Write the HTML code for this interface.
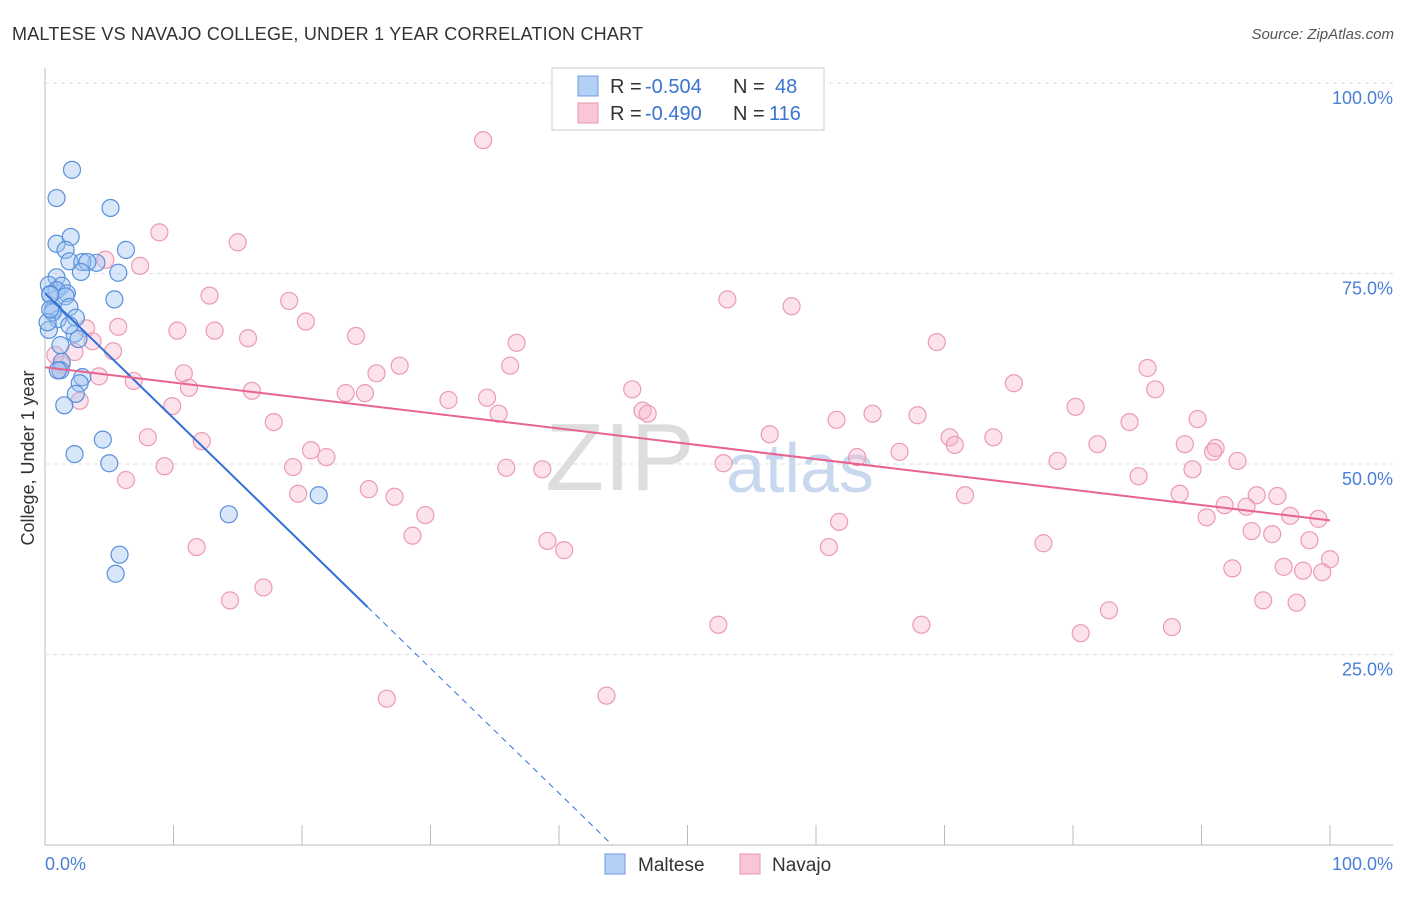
<!DOCTYPE html>
<html><head><meta charset="utf-8"><style>
body{margin:0;background:#fff;font-family:"Liberation Sans",sans-serif;}
svg text{font-family:"Liberation Sans",sans-serif;}
</style></head><body>
<svg id="chart" width="1406" height="892">
<text x="12" y="40" font-size="18" fill="#333" textLength="631">MALTESE VS NAVAJO COLLEGE, UNDER 1 YEAR CORRELATION CHART</text>
<text x="1394" y="39" font-size="15" fill="#555" font-style="italic" text-anchor="end">Source: ZipAtlas.com</text>
<text x="620" y="490" font-size="96" fill="#ddd" font-family="Liberation Serif" text-anchor="middle">ZIP</text>
<text x="800" y="492" font-size="70" fill="#c8d8ee" text-anchor="middle">atlas</text>
<g id="grid"></g><g id="pts"></g><g id="lines"></g>
<text transform="translate(34,458) rotate(-90)" font-size="18" fill="#333" text-anchor="middle">College, Under 1 year</text>
<text x="45" y="870" font-size="18" fill="#4a7fd6">0.0%</text>
<text x="1393" y="870" font-size="18" fill="#4a7fd6" text-anchor="end">100.0%</text>
<g>
<rect x="552" y="68" width="272" height="62" fill="#fff" stroke="#ccc"/>
<rect x="578" y="76" width="20" height="20" fill="#b5d0f5" stroke="#6a9be0"/>
<rect x="578" y="103" width="20" height="20" fill="#f8c6d6" stroke="#e895b0"/>
<text x="610" y="93" font-size="20" fill="#333">R = </text><text x="645" y="93" font-size="20" fill="#3a74d0">-0.504</text>
<text x="733" y="93" font-size="20" fill="#333">N = </text><text x="775" y="93" font-size="20" fill="#3a74d0">48</text>
<text x="610" y="120" font-size="20" fill="#333">R = </text><text x="645" y="120" font-size="20" fill="#3a74d0">-0.490</text>
<text x="733" y="120" font-size="20" fill="#333">N = </text><text x="769" y="120" font-size="20" fill="#3a74d0">116</text>
</g>
<g>
<rect x="605" y="854" width="20" height="20" fill="#b5d0f5" stroke="#6a9be0"/>
<text x="638" y="871" font-size="19" fill="#333">Maltese</text>
<rect x="740" y="854" width="20" height="20" fill="#f8c6d6" stroke="#e895b0"/>
<text x="772" y="871" font-size="19" fill="#333">Navajo</text>
</g>
</svg>
<script>
const yTicks=[25,50,75,100];
const yTickLabels=["25.0%","50.0%","75.0%","100.0%"];
const xTicks=[0,10,20,30,40,50,60,70,80,90,100];
const blueX=[2.1,0.9,5.1,0.9,2.0,1.6,6.3,4.0,1.9,2.9,3.3,5.7,2.8,0.9,0.3,1.3,0.9,1.7,5.4,1.6,0.4,0.6,1.9,1.0,2.4,0.3,2.3,2.6,1.3,1.2,2.9,2.7,1.5,2.4,4.5,2.3,5.0,14.3,21.3,5.8,5.5,0.6,0.2,0.4,1.2,1.9,0.4,1.0];
const blueY=[88.6,84.9,83.6,78.9,79.8,78.1,78.1,76.4,76.6,76.5,76.5,75.1,75.2,74.5,73.5,73.4,72.8,72.4,71.6,72.0,72.3,70.2,70.6,69.0,69.2,67.6,67.1,66.4,63.4,62.3,61.4,60.6,57.7,59.2,53.2,51.3,50.1,43.4,45.9,38.1,35.6,69.9,68.6,72.2,65.6,68.2,70.3,62.3];
const pinkX=[34.1,8.9,15.0,7.4,4.7,12.8,19.0,53.1,58.1,5.7,20.3,10.3,13.2,15.8,24.2,69.4,3.2,3.7,36.7,5.3,2.3,10.8,25.8,27.6,36.2,85.8,4.2,6.9,11.2,16.1,23.4,24.9,31.4,34.4,45.7,75.4,86.4,2.7,9.9,35.3,46.5,46.9,61.6,64.4,67.9,80.2,84.4,89.7,17.8,8.0,12.2,56.4,70.4,70.8,73.8,81.9,88.7,91.1,20.7,21.9,63.2,66.5,78.8,90.9,92.8,9.3,19.3,35.9,38.7,52.8,89.3,85.1,6.3,94.3,19.7,25.2,27.2,71.6,88.3,95.9,29.6,91.8,93.5,90.4,96.9,99.1,61.8,28.6,93.9,95.5,39.1,40.4,61.0,77.7,98.4,11.8,100,92.4,96.4,97.9,99.4,17.0,14.4,94.8,97.4,82.8,52.4,68.2,87.7,80.6,26.6,43.7,0.8,1.3,1.0];
const pinkY=[92.5,80.4,79.1,76.0,76.8,72.1,71.4,71.6,70.7,68.0,68.7,67.5,67.5,66.5,66.8,66.0,67.8,66.1,65.9,64.8,64.7,61.9,61.9,62.9,62.9,62.6,61.5,60.9,60.0,59.6,59.3,59.3,58.4,58.7,59.8,60.6,59.8,58.3,57.6,56.6,57.0,56.6,55.8,56.6,56.4,57.5,55.5,55.9,55.5,53.5,53.0,53.9,53.5,52.5,53.5,52.6,52.6,52.1,51.8,50.9,50.9,51.6,50.4,51.6,50.4,49.7,49.6,49.5,49.3,50.1,49.3,48.4,47.9,45.9,46.1,46.7,45.7,45.9,46.1,45.8,43.3,44.6,44.4,43.0,43.2,42.8,42.4,40.6,41.2,40.8,39.9,38.7,39.1,39.6,40.0,39.1,37.5,36.3,36.5,36.0,35.8,33.8,32.1,32.1,31.8,30.8,28.9,28.9,28.6,27.8,19.2,19.6,64.3,63.0,62.3];
const blueFit=[72.4,-1.64];
const pinkFit=[62.7,-0.201];
const X=v=>45+v*12.85, Y=v=>845-v*7.62;
const NS="http://www.w3.org/2000/svg";
function mk(t,a,p){const e=document.createElementNS(NS,t);for(const k in a)e.setAttribute(k,a[k]);p.appendChild(e);return e;}
const grid=document.getElementById('grid');
let ax=mk('line',{x1:45,y1:68,x2:45,y2:845,stroke:'#bbb'},grid);


let bx=mk('line',{x1:45,y1:845,x2:1393,y2:845,stroke:'#bbb'},grid);


yTicks.forEach((t,i)=>{
 const g=mk('line',{x1:45,y1:Y(t),x2:1393,y2:Y(t),stroke:'#ddd','stroke-dasharray':'4,4'},grid);
 
 
 const l=mk('text',{x:1393,y:Y(t)+21,'font-size':18,fill:'#4a7fd6','text-anchor':'end'},grid);l.textContent=yTickLabels[i];
 
 
});
xTicks.forEach(t=>{const m=mk('line',{x1:X(t),y1:825,x2:X(t),y2:845,stroke:'#bbb'},grid);
 
 });
const pts=document.getElementById('pts');
pinkX.forEach((x,i)=>{const c=mk('circle',{cx:X(x),cy:Y(pinkY[i]),r:8.5,fill:'rgba(246,180,202,0.38)',stroke:'#ec9ab6','stroke-width':1.2},pts);
 
 });
blueX.forEach((x,i)=>{const c=mk('circle',{cx:X(x),cy:Y(blueY[i]),r:8.5,fill:'rgba(160,195,240,0.42)',stroke:'#5a90dc','stroke-width':1.2},pts);
 
 });
const L=document.getElementById('lines');
let b1=mk('line',{x1:X(0),y1:Y(blueFit[0]),x2:X(25.1),y2:Y(blueFit[0]+blueFit[1]*25.1),stroke:'#2f6fd8','stroke-width':2},L);


const xe=-blueFit[0]/blueFit[1];
let b2=mk('line',{x1:X(25.1),y1:Y(blueFit[0]+blueFit[1]*25.1),x2:X(xe),y2:Y(0),stroke:'#2f6fd8','stroke-width':1,'stroke-dasharray':'6,5'},L);


let p1=mk('line',{x1:X(0),y1:Y(pinkFit[0]),x2:X(100),y2:Y(pinkFit[0]+pinkFit[1]*100),stroke:'#e8648f','stroke-width':2},L);


</script>
</body></html>
